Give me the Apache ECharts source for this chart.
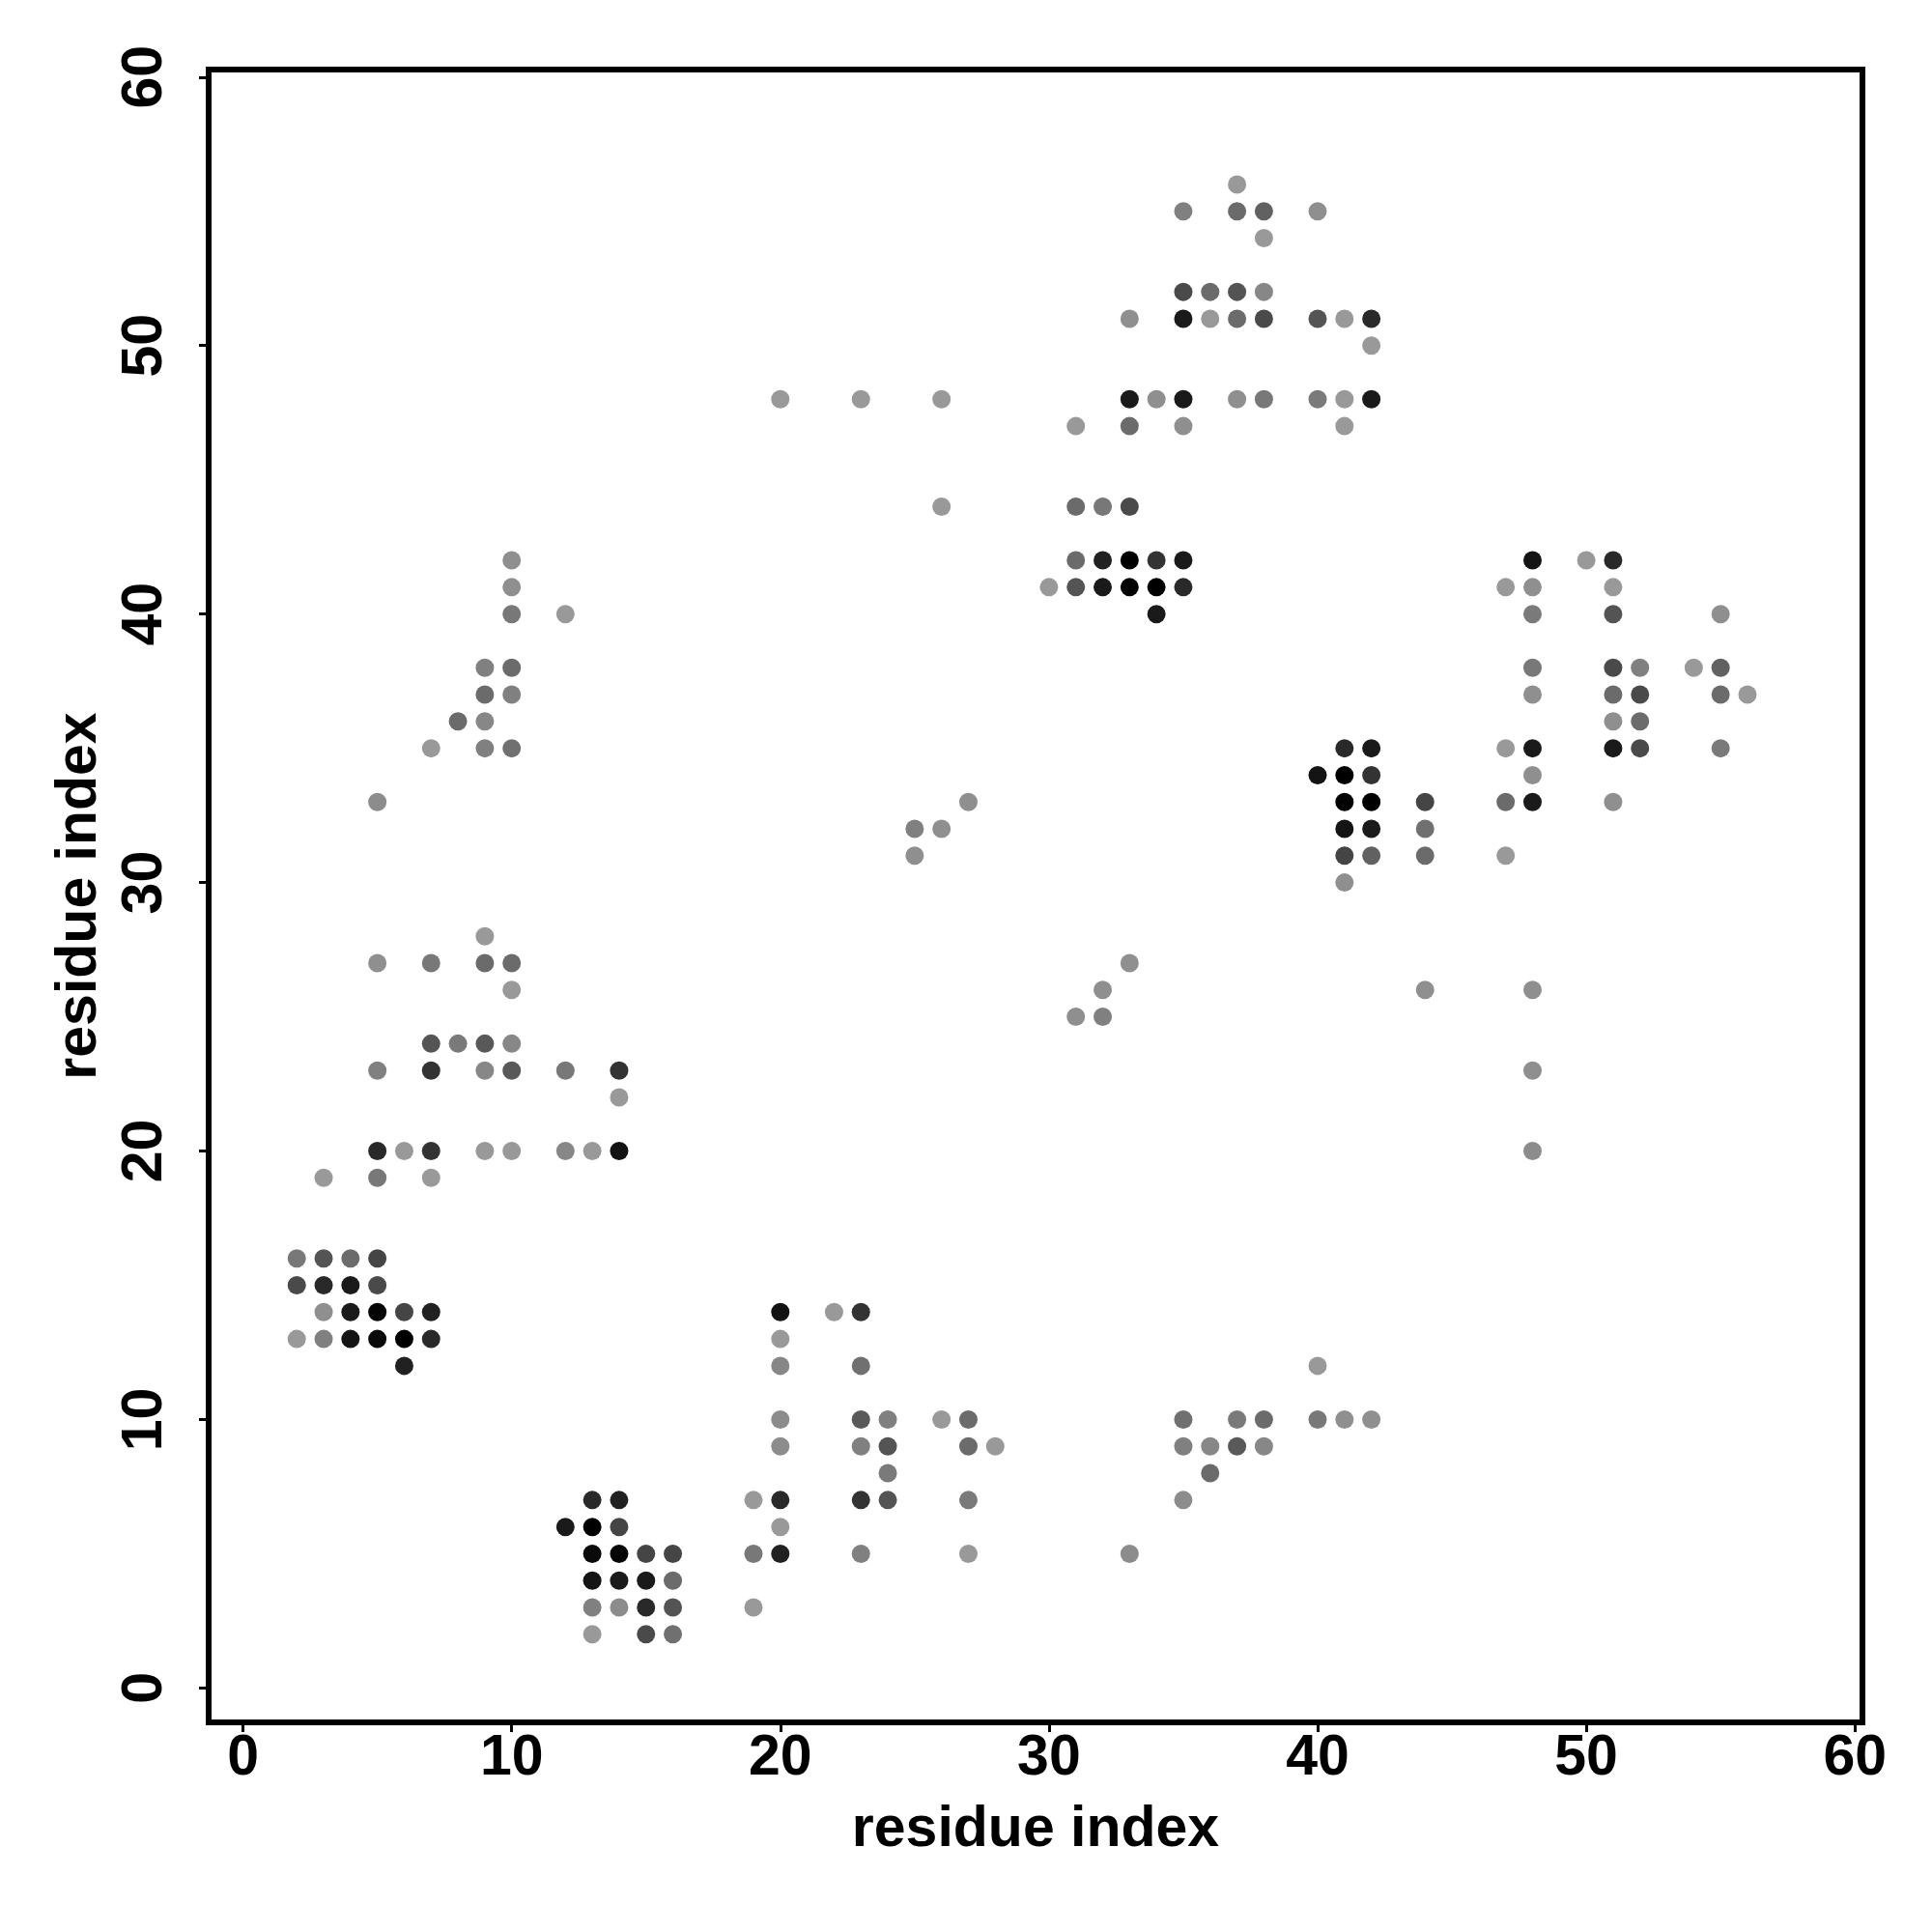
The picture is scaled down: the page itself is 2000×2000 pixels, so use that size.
<!DOCTYPE html>
<html>
<head>
<meta charset="utf-8">
<script src="https://cdn.jsdelivr.net/npm/echarts@6/dist/echarts.min.js"></script>
<style>
html,body{margin:0;padding:0;background:#fff;}
#chart{width:2000px;height:2000px;}
</style>
</head>
<body>
<div id="chart"></div>
<script>
// residue i (x), residue j (y), contact frequency (shade: gray(1 - f))
const resX = [37, 35,37,38,40, 38, 35,36,37,38, 33,35,36,37,38,40,41,42, 42,
  20,23,26,33,34,35,37,38,40,41,42, 31,33,35,41, 26,31,32,33,
  10,31,32,33,34,35,48,50,51, 10,30,31,32,33,34,35,47,48,51,
  10,12,34,48,51,55, 9,10,48,51,52,54,55, 9,10,48,51,52,55,56,
  8,9,51,52, 7,9,10,41,42,47,48,51,52,55, 40,41,42,48,
  5,27,41,42,44,47,48,51, 25,26,41,42,44, 25,41,42,44,47, 41,
  9, 5,7,9,10,33, 10,32,44,48, 31,32, 7,8,9,10,
  5,7,9,10,12,14,48, 14, 5,6,7,9,10,12,13,14,48, 3,5,7,
  2,3,4,5, 2,3,4,5, 3,4,5,6,7,20,22,23, 2,3,4,5,6,7,20,
  6,20,23,40, 20,23,24,26,27,35,37,38,40,41,42,
  20,23,24,27,28,35,36,37,38, 24,36, 13,14,19,20,23,24,27,35,
  12,13,14,20, 13,14,15,16,19,20,23,27,33, 13,14,15,16, 13,14,15,16,19, 13,15,16];
const resY = [56, 55,55,55,55, 54, 52,52,52,52, 51,51,51,51,51,51,51,51, 50,
  48,48,48,48,48,48,48,48,48,48,48, 47,47,47,47, 44,44,44,44,
  42,42,42,42,42,42,42,42,42, 41,41,41,41,41,41,41,41,41,41,
  40,40,40,40,40,40, 38,38,38,38,38,38,38, 37,37,37,37,37,37,37,
  36,36,36,36, 35,35,35,35,35,35,35,35,35,35, 34,34,34,34,
  33,33,33,33,33,33,33,33, 32,32,32,32,32, 31,31,31,31,31, 30,
  28, 27,27,27,27,27, 26,26,26,26, 25,25, 24,24,24,24,
  23,23,23,23,23,23,23, 22, 20,20,20,20,20,20,20,20,20, 19,19,19,
  16,16,16,16, 15,15,15,15, 14,14,14,14,14,14,14,14, 13,13,13,13,13,13,13,
  12,12,12,12, 10,10,10,10,10,10,10,10,10,10,10,
  9,9,9,9,9,9,9,9,9, 8,8, 7,7,7,7,7,7,7,7,
  6,6,6,6, 5,5,5,5,5,5,5,5,5, 4,4,4,4, 3,3,3,3,3, 2,2,2];
const freq = [0.40, 0.50,0.58,0.62,0.44, 0.40, 0.71,0.58,0.67,0.47, 0.44,0.90,0.40,0.58,0.71,0.67,0.40,0.84, 0.40,
  0.40,0.40,0.40,0.90,0.44,0.90,0.44,0.53,0.52,0.40,0.90, 0.40,0.58,0.44,0.40, 0.40,0.58,0.53,0.71,
  0.44,0.58,0.87,1.00,0.80,0.90,0.92,0.40,0.84, 0.44,0.40,0.67,0.90,1.00,1.00,0.84,0.40,0.44,0.40,
  0.53,0.40,0.90,0.52,0.67,0.44, 0.50,0.58,0.53,0.71,0.50,0.40,0.62, 0.58,0.50,0.44,0.58,0.71,0.58,0.40,
  0.58,0.47,0.44,0.58, 0.40,0.50,0.56,0.84,0.90,0.40,0.90,0.90,0.71,0.52, 0.92,1.00,0.80,0.44,
  0.45,0.44,1.00,1.00,0.73,0.58,0.90,0.44, 0.50,0.44,0.92,0.90,0.56, 0.44,0.73,0.62,0.58,0.40, 0.44,
  0.40, 0.44,0.53,0.58,0.58,0.44, 0.40,0.44,0.44,0.44, 0.44,0.50, 0.67,0.52,0.65,0.47,
  0.50,0.80,0.47,0.65,0.53,0.80,0.44, 0.40, 0.84,0.40,0.80,0.40,0.40,0.47,0.40,0.93,0.45, 0.40,0.53,0.40,
  0.53,0.67,0.58,0.73, 0.71,0.84,0.90,0.71, 0.44,0.90,0.98,0.73,0.87,0.93,0.40,0.80, 0.40,0.50,0.92,0.96,1.00,0.84,0.40,
  0.87,0.47,0.56,0.40, 0.45,0.65,0.50,0.40,0.58,0.56,0.52,0.58,0.53,0.44,0.44,
  0.45,0.50,0.67,0.58,0.40,0.50,0.47,0.65,0.47, 0.52,0.58, 0.84,0.87,0.40,0.84,0.80,0.67,0.52,0.45,
  0.90,1.00,0.73,0.40, 0.96,0.98,0.73,0.73,0.53,0.87,0.50,0.40,0.45, 0.92,0.90,0.90,0.58, 0.50,0.45,0.84,0.67,0.40, 0.40,0.71,0.56];
const tickValues = [0, 10, 20, 30, 40, 50, 60];
const axisTitle = 'residue index';

const points = resX.map((x, k) => [x, resY[k], freq[k]]);

const chart = echarts.init(document.getElementById('chart'), null, {renderer: 'canvas'});
const font = 'Liberation Sans, Arial, Helvetica, sans-serif';
function axisCfg(isX) {
  return {
    type: 'value',
    min: -1.28,
    max: 60.28,
    name: axisTitle,
    nameLocation: 'middle',
    nameGap: isX ? 82 : 104,
    nameTextStyle: {fontSize: 59, fontWeight: 'bold', color: '#000', fontFamily: font},
    axisLine: {show: false, onZero: false},
    splitLine: {show: false},
    axisTick: {show: true, inside: false, length: 10, customValues: tickValues, lineStyle: {color: '#000', width: 3}},
    axisLabel: {
      customValues: tickValues,
      fontSize: 59, fontWeight: 'bold', color: '#000', fontFamily: font,
      margin: isX ? 8 : 36,
      rotate: isX ? 0 : 90
    }
  };
}
chart.setOption({
  backgroundColor: '#fff',
  animation: false,
  grid: {left: 216, top: 72, width: 1712, height: 1711, show: true, borderColor: '#000', borderWidth: 6, containLabel: false},
  xAxis: axisCfg(true),
  yAxis: axisCfg(false),
  visualMap: {type: 'continuous', show: false, dimension: 2, min: 0, max: 1, inRange: {color: ['#ffffff', '#000000']}},
  series: [{
    type: 'scatter',
    data: points,
    symbol: 'circle',
    symbolSize: 19,
    itemStyle: {opacity: 1}
  }]
});
</script>
</body>
</html>
